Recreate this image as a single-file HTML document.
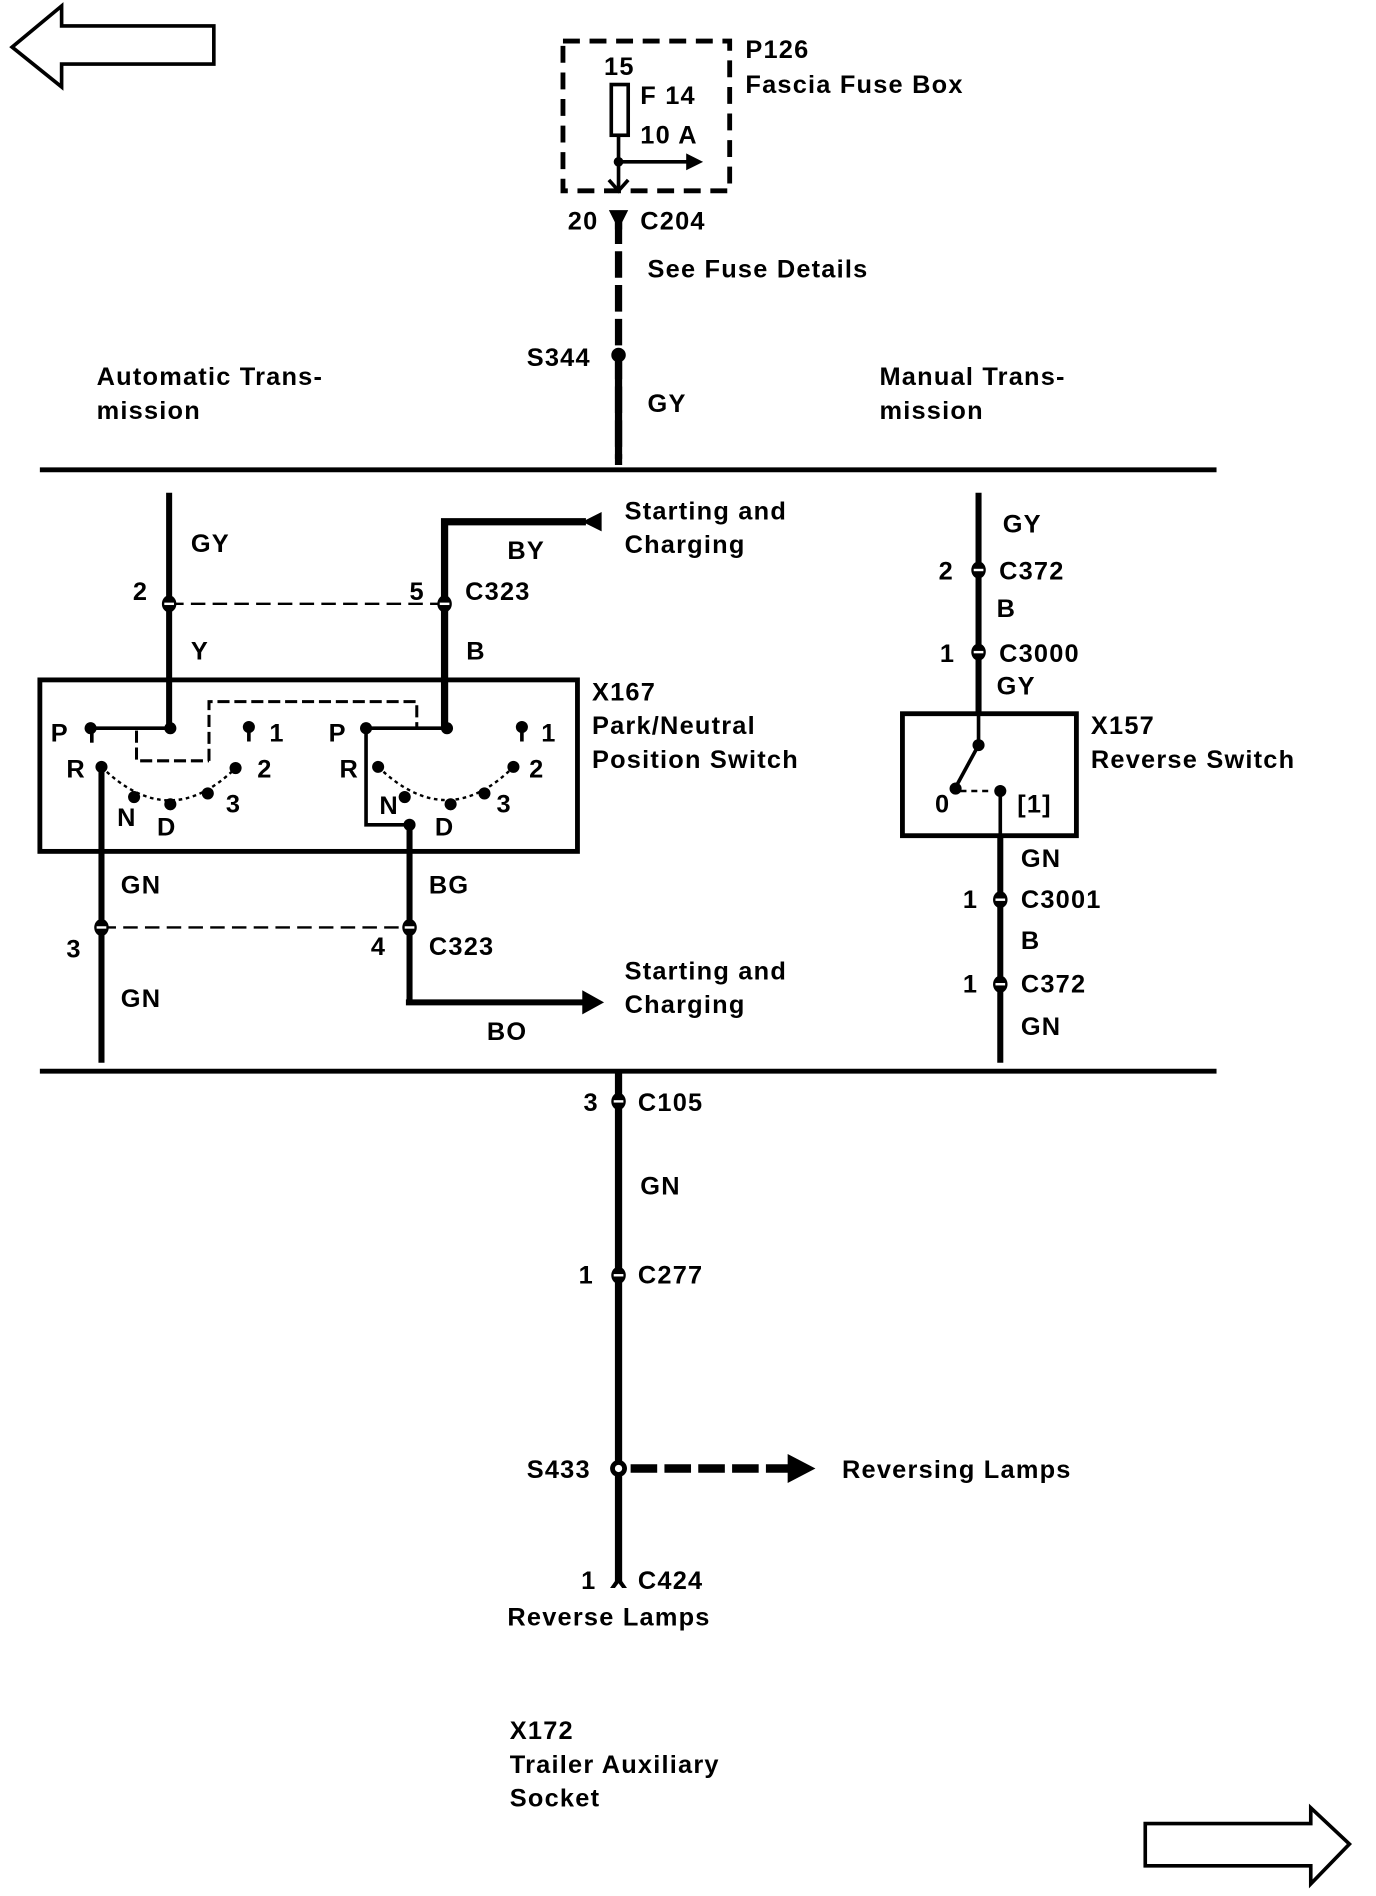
<!DOCTYPE html>
<html><head><meta charset="utf-8"><style>
html,body{margin:0;padding:0;background:#fff;}
svg{display:block;}
text{font-family:"Liberation Sans",sans-serif;font-weight:bold;font-size:21px;letter-spacing:1px;fill:#000;}
</style></head><body>
<svg width="1376" height="1896" viewBox="0 0 1139 1570" preserveAspectRatio="none" xmlns="http://www.w3.org/2000/svg">
<defs>
<g id="cn"><ellipse cx="0" cy="0" rx="6" ry="7" fill="#000"/><line x1="-4" y1="0" x2="4" y2="0" stroke="#fff" stroke-width="2"/></g>
</defs>
<g fill="none" stroke="#000">
<path d="M177,21.5 L51,21.5 L51,5 L10,39 L51,72 L51,53 L177,53 Z" stroke-width="3"/>
<path d="M948,1510 L1085,1510 L1085,1497 L1117,1527 L1085,1560 L1085,1545 L948,1545 Z" stroke-width="3"/>
<rect x="466" y="34" width="138" height="124" stroke-width="4" stroke-dasharray="14,8"/>
<rect x="506" y="70" width="14" height="42" stroke-width="3"/>
<line x1="512" y1="112" x2="512" y2="157" stroke-width="3"/>
<line x1="512" y1="134" x2="572" y2="134" stroke-width="3"/>
<path d="M504,149 L512,158 L520,149" stroke-width="3"/>
<line x1="512" y1="180" x2="512" y2="380" stroke-width="6" stroke-dasharray="22,6"/>
<line x1="512" y1="290" x2="512" y2="385" stroke-width="6"/>
<line x1="33" y1="389" x2="1007" y2="389" stroke-width="4"/>
<line x1="33" y1="887" x2="1007" y2="887" stroke-width="4"/>
<line x1="140" y1="408" x2="140" y2="604" stroke-width="5"/>
<line x1="140" y1="500" x2="368" y2="500" stroke-width="2" stroke-dasharray="12,6"/>
<path d="M368,604 L368,432 L485,432" stroke-width="6"/>
<rect x="33" y="563" width="445" height="142" stroke-width="4"/>
<line x1="76" y1="603" x2="141" y2="603" stroke-width="3"/>
<line x1="76" y1="603" x2="76" y2="615" stroke-width="3"/>
<path d="M113,605 L113,630 L173,630" stroke-width="2.5" stroke-dasharray="10,4"/>
<path d="M173,630 L173,581 L345,581 L345,603" stroke-width="2.5" stroke-dasharray="10,4"/>
<line x1="303" y1="603" x2="370" y2="603" stroke-width="3"/>
<line x1="206" y1="602" x2="206" y2="614" stroke-width="3"/>
<path d="M84,635 Q140,690 195,636" stroke-width="2" stroke-dasharray="3,3"/>
<path d="M313,635 Q370,690 425,635" stroke-width="2" stroke-dasharray="3,3"/>
<line x1="432" y1="602" x2="432" y2="614" stroke-width="3"/>
<path d="M303,603 L303,683 L339,683" stroke-width="3"/>
<line x1="84" y1="635" x2="84" y2="880" stroke-width="5"/>
<line x1="339" y1="683" x2="339" y2="830" stroke-width="5"/>
<line x1="336" y1="830" x2="485" y2="830" stroke-width="5"/>
<line x1="84" y1="768" x2="339" y2="768" stroke-width="2" stroke-dasharray="12,6"/>
<line x1="810" y1="408" x2="810" y2="591" stroke-width="5"/>
<rect x="747" y="591" width="144" height="101" stroke-width="4"/>
<line x1="810" y1="591" x2="810" y2="617" stroke-width="3"/>
<line x1="810" y1="617" x2="791" y2="652" stroke-width="3"/>
<line x1="795" y1="655" x2="818" y2="655" stroke-width="2" stroke-dasharray="5,4"/>
<line x1="828" y1="655" x2="828" y2="692" stroke-width="3"/>
<line x1="828" y1="692" x2="828" y2="880" stroke-width="5"/>
<line x1="512" y1="887" x2="512" y2="1310" stroke-width="6"/>
<line x1="522" y1="1216" x2="655" y2="1216" stroke-width="7" stroke-dasharray="22,6"/>
</g>
<g fill="#000">
<path d="M482,432 L498,424 L498,440 Z"/>
<path d="M500,830 L482,820 L482,840 Z"/>
<path d="M675,1216 L652,1204 L652,1228 Z"/>
<path d="M582,134 L568,127 L568,141 Z"/>
<circle cx="512" cy="134" r="4"/>
<circle cx="512" cy="294" r="6"/>
<circle cx="512" cy="1216" r="7"/><circle cx="512" cy="1216" r="3" fill="#fff"/>
<path d="M504,174 L520,174 L515,184 L515,190 L509,190 L509,184 Z"/>
<circle cx="75" cy="603" r="5"/><circle cx="141" cy="603" r="5"/>
<circle cx="84" cy="635" r="5"/><circle cx="111" cy="660" r="5"/><circle cx="141" cy="666" r="5"/>
<circle cx="172" cy="657" r="5"/><circle cx="195" cy="636" r="5"/><circle cx="206" cy="602" r="5"/>
<circle cx="303" cy="603" r="5"/><circle cx="370" cy="603" r="5"/>
<circle cx="313" cy="635" r="5"/><circle cx="335" cy="660" r="5"/><circle cx="373" cy="666" r="5"/>
<circle cx="401" cy="657" r="5"/><circle cx="425" cy="635" r="5"/><circle cx="432" cy="602" r="5"/>
<circle cx="339" cy="683" r="5"/>
<circle cx="810" cy="617" r="5"/><circle cx="791" cy="653" r="5"/><circle cx="828" cy="655" r="5"/>
<use href="#cn" x="140" y="500"/><use href="#cn" x="368" y="500"/>
<use href="#cn" x="84" y="768"/><use href="#cn" x="339" y="768"/>
<use href="#cn" x="810" y="472"/><use href="#cn" x="810" y="540"/>
<use href="#cn" x="828" y="745"/><use href="#cn" x="828" y="815"/>
<use href="#cn" x="512" y="912"/><use href="#cn" x="512" y="1056"/>
<path d="M505,1315 L512,1305 L519,1315 L515,1315 L512,1311 L509,1315 Z"/>
</g>
<text x="500" y="62">15</text>
<text x="530" y="86">F 14</text>
<text x="530" y="119">10 A</text>
<text x="617" y="48">P126</text>
<text x="617" y="77">Fascia Fuse Box</text>
<text x="470" y="190">20</text><text x="530" y="190">C204</text>
<text x="536" y="230">See Fuse Details</text>
<text x="436" y="303">S344</text>
<text x="536" y="341">GY</text>
<text x="80" y="319">Automatic Trans-</text><text x="80" y="347">mission</text>
<text x="728" y="319">Manual Trans-</text><text x="728" y="347">mission</text>
<text x="158" y="457">GY</text>
<text x="517" y="430">Starting and</text><text x="517" y="458">Charging</text>
<text x="420" y="463">BY</text>
<text x="110" y="497">2</text><text x="339" y="497">5</text><text x="385" y="497">C323</text>
<text x="158" y="546">Y</text><text x="386" y="546">B</text>
<text x="490" y="580">X167</text><text x="490" y="608">Park/Neutral</text><text x="490" y="636">Position Switch</text>
<text x="42" y="614">P</text><text x="55" y="644">R</text><text x="97" y="684">N</text><text x="130" y="692">D</text>
<text x="187" y="673">3</text><text x="213" y="644">2</text><text x="223" y="614">1</text>
<text x="272" y="614">P</text><text x="281" y="644">R</text><text x="314" y="674">N</text><text x="360" y="692">D</text>
<text x="411" y="673">3</text><text x="438" y="644">2</text><text x="448" y="614">1</text>
<text x="100" y="740">GN</text><text x="355" y="740">BG</text>
<text x="55" y="793">3</text><text x="307" y="791">4</text><text x="355" y="791">C323</text>
<text x="100" y="834">GN</text>
<text x="517" y="811">Starting and</text><text x="517" y="839">Charging</text>
<text x="403" y="861">BO</text>
<text x="830" y="441">GY</text>
<text x="777" y="480">2</text><text x="827" y="480">C372</text>
<text x="825" y="511">B</text>
<text x="778" y="548">1</text><text x="827" y="548">C3000</text>
<text x="825" y="575">GY</text>
<text x="903" y="608">X157</text><text x="903" y="636">Reverse Switch</text>
<text x="774" y="673">0</text><text x="842" y="673">[1]</text>
<text x="845" y="718">GN</text>
<text x="797" y="752">1</text><text x="845" y="752">C3001</text>
<text x="845" y="786">B</text>
<text x="797" y="822">1</text><text x="845" y="822">C372</text>
<text x="845" y="857">GN</text>
<text x="483" y="920">3</text><text x="528" y="920">C105</text>
<text x="530" y="989">GN</text>
<text x="479" y="1063">1</text><text x="528" y="1063">C277</text>
<text x="436" y="1224">S433</text>
<text x="697" y="1224">Reversing Lamps</text>
<text x="481" y="1316">1</text><text x="528" y="1316">C424</text>
<text x="420" y="1346">Reverse Lamps</text>
<text x="422" y="1440">X172</text><text x="422" y="1468">Trailer Auxiliary</text><text x="422" y="1496">Socket</text>
</svg>
</body></html>
